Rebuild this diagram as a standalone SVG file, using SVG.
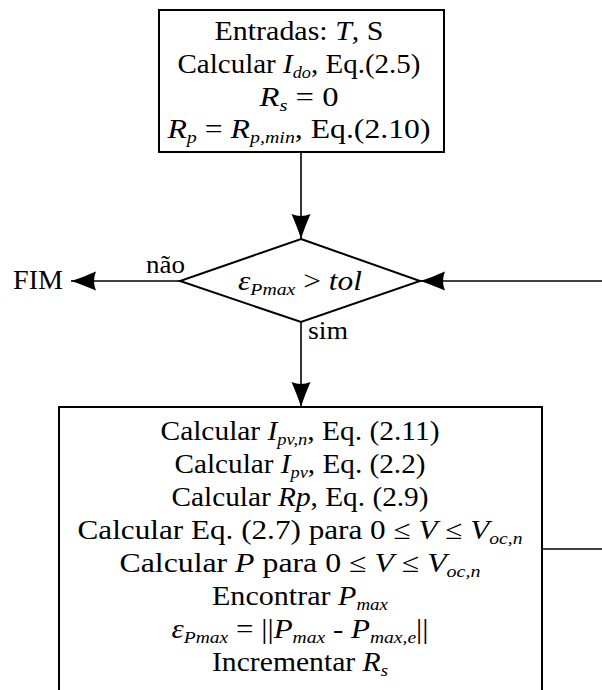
<svg xmlns="http://www.w3.org/2000/svg" width="602" height="690" viewBox="0 0 602 690">
  <defs>
    <style>
      text { font-family: 'Liberation Serif', 'DejaVu Serif', serif; font-size: 27px; fill: #000; }
      .c { text-anchor: middle; }
      .i { font-style: italic; }
      .s { font-size: 17px; font-style: italic; }
      .shape { fill: #fff; stroke: #000; stroke-width: 2; }
      .conn { fill: none; stroke: #000; stroke-width: 1.6; }
    </style>
    <marker id="arrow" markerUnits="userSpaceOnUse" markerWidth="30" markerHeight="24" viewBox="-26 -12 28 24" refX="0" refY="0" orient="auto">
      <path d="M0,0 C-8,-2.5 -17,-6 -25,-9.5 Q-21,0 -25,9.5 C-17,6 -8,2.5 0,0 Z" fill="#000"/>
    </marker>
  </defs>

  <rect width="602" height="690" fill="#fff"/>

  <!-- connectors -->
  <g id="connectors">
    <line class="conn" x1="301" y1="152" x2="301" y2="239" marker-end="url(#arrow)"/>
    <line class="conn" x1="180" y1="281" x2="71" y2="281" marker-end="url(#arrow)"/>
    <line class="conn" x1="602" y1="281" x2="420" y2="281" marker-end="url(#arrow)"/>
    <line class="conn" x1="301" y1="322" x2="301" y2="407" marker-end="url(#arrow)"/>
    <line class="conn" x1="542" y1="549" x2="602" y2="549"/>
    <text x="146" y="273" style="font-size:25px" textLength="39" lengthAdjust="spacingAndGlyphs">não</text>
    <text x="308" y="339" style="font-size:25px" textLength="40" lengthAdjust="spacingAndGlyphs">sim</text>
  </g>

  <!-- start: inputs and initial values -->
  <g id="init">
    <rect class="shape" x="159" y="10" width="285" height="142"/>
    <text class="c" x="299" y="40" textLength="169" lengthAdjust="spacingAndGlyphs">Entradas: <tspan class="i">T</tspan>, S</text>
    <text class="c" x="299" y="73" textLength="243" lengthAdjust="spacingAndGlyphs">Calcular <tspan class="i">I</tspan><tspan class="s" dy="5">do</tspan><tspan dy="-5">, Eq.(2.5)</tspan></text>
    <text class="c" x="299" y="105.5" textLength="79" lengthAdjust="spacingAndGlyphs"><tspan class="i">R</tspan><tspan class="s" dy="5">s</tspan><tspan dy="-5"> = 0</tspan></text>
    <text class="c" x="299" y="138" textLength="263" lengthAdjust="spacingAndGlyphs"><tspan class="i">R</tspan><tspan class="s" dy="5">p</tspan><tspan dy="-5"> = </tspan><tspan class="i">R</tspan><tspan class="s" dy="5">p,min</tspan><tspan dy="-5">, Eq.(2.10)</tspan></text>
  </g>

  <!-- decision -->
  <g id="decision">
    <polygon class="shape" points="301,239 420,281 301,322 180,281"/>
    <text class="c" x="300" y="290" textLength="124" lengthAdjust="spacingAndGlyphs"><tspan class="i">ε</tspan><tspan class="s" dy="5">Pmax</tspan><tspan dy="-5"> &gt; </tspan><tspan class="i">tol</tspan></text>
  </g>

  <!-- end -->
  <g id="end">
    <text x="13" y="289" textLength="50" lengthAdjust="spacingAndGlyphs">FIM</text>
  </g>

  <!-- iteration body -->
  <g id="loop">
    <rect class="shape" x="59" y="407" width="483" height="320"/>
    <text class="c" x="300" y="440" textLength="279" lengthAdjust="spacingAndGlyphs">Calcular <tspan class="i">I</tspan><tspan class="s" dy="5">pv,n</tspan><tspan dy="-5">, Eq. (2.11)</tspan></text>
    <text class="c" x="300" y="473" textLength="251" lengthAdjust="spacingAndGlyphs">Calcular <tspan class="i">I</tspan><tspan class="s" dy="5">pv</tspan><tspan dy="-5">, Eq. (2.2)</tspan></text>
    <text class="c" x="300" y="506" textLength="257" lengthAdjust="spacingAndGlyphs">Calcular <tspan class="i">Rp</tspan>, Eq. (2.9)</text>
    <text class="c" x="300" y="539" textLength="445" lengthAdjust="spacingAndGlyphs">Calcular Eq. (2.7) para 0 ≤ <tspan class="i">V</tspan> ≤ <tspan class="i">V</tspan><tspan class="s" dy="5">oc,n</tspan></text>
    <text class="c" x="300" y="572" textLength="361" lengthAdjust="spacingAndGlyphs">Calcular <tspan class="i">P</tspan> para 0 ≤ <tspan class="i">V</tspan> ≤ <tspan class="i">V</tspan><tspan class="s" dy="5">oc,n</tspan></text>
    <text class="c" x="300" y="605" textLength="176" lengthAdjust="spacingAndGlyphs">Encontrar <tspan class="i">P</tspan><tspan class="s" dy="5">max</tspan></text>
    <text class="c" x="300" y="638" textLength="257" lengthAdjust="spacingAndGlyphs"><tspan class="i">ε</tspan><tspan class="s" dy="5">Pmax</tspan><tspan dy="-5"> = ||</tspan><tspan class="i">P</tspan><tspan class="s" dy="5">max</tspan><tspan dy="-5"> - </tspan><tspan class="i">P</tspan><tspan class="s" dy="5">max,e</tspan><tspan dy="-5">||</tspan></text>
    <text class="c" x="300" y="671" textLength="176" lengthAdjust="spacingAndGlyphs">Incrementar <tspan class="i">R</tspan><tspan class="s" dy="5">s</tspan></text>
  </g>
</svg>
